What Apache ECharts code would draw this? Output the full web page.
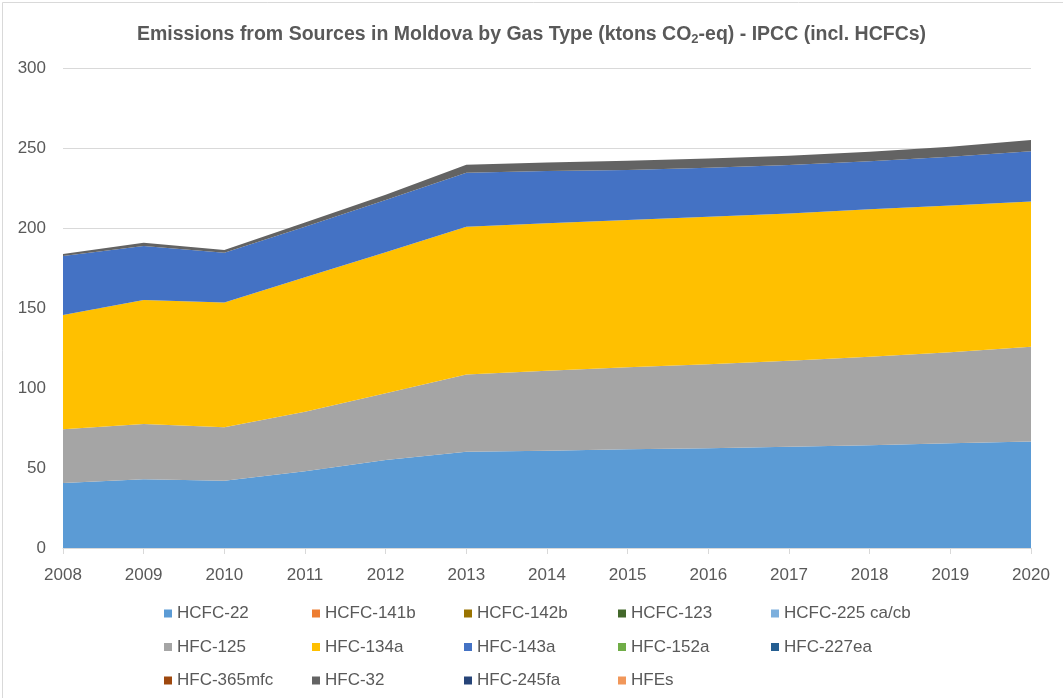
<!DOCTYPE html>
<html>
<head>
<meta charset="utf-8">
<title>Emissions from Sources in Moldova by Gas Type</title>
<script src="https://cdn.jsdelivr.net/npm/echarts@6/dist/echarts.min.js"></script>
<style>
	html, body { margin: 0; padding: 0; background: #fff; }
	#chart-container { width: 1063px; height: 698px; }
</style>
</head>
<body>
<div id="chart-container"></div>
<script>

var years = ['2008', '2009', '2010', '2011', '2012', '2013', '2014', '2015', '2016', '2017', '2018', '2019', '2020'];

var hcfc22    = [40.6, 43.0, 42.0, 48.0, 55.0, 60.2, 60.8, 61.7, 62.3, 63.3, 64.2, 65.4, 66.5];
var hcfc141b  = [0, 0, 0, 0, 0, 0, 0, 0, 0, 0, 0, 0, 0];
var hcfc142b  = [0, 0, 0, 0, 0, 0, 0, 0, 0, 0, 0, 0, 0];
var hcfc123   = [0, 0, 0, 0, 0, 0, 0, 0, 0, 0, 0, 0, 0];
var hcfc225   = [0, 0, 0, 0, 0, 0, 0, 0, 0, 0, 0, 0, 0];
var hfc125    = [33.6, 34.5, 33.4, 37.2, 41.7, 48.3, 50.0, 51.2, 52.5, 53.8, 55.4, 56.9, 59.3];
var hfc134a   = [71.4, 77.5, 78.1, 84.0, 88.2, 92.3, 92.2, 92.1, 92.2, 91.9, 92.1, 91.7, 90.7];
var hfc143a   = [36.9, 33.8, 31.1, 31.6, 32.6, 33.8, 32.6, 31.3, 30.7, 30.4, 30.0, 30.6, 31.4];
var hfc152a   = [0, 0, 0, 0, 0, 0, 0, 0, 0, 0, 0, 0, 0];
var hfc227ea  = [0, 0, 0, 0, 0, 0, 0, 0, 0, 0, 0, 0, 0];
var hfc365mfc = [0, 0, 0, 0, 0, 0, 0, 0, 0, 0, 0, 0, 0];
var hfc32     = [1.2, 2.0, 1.7, 2.7, 3.3, 5.0, 5.4, 5.7, 5.8, 5.8, 6.0, 6.2, 7.1];
var hfc245fa  = [0, 0, 0, 0, 0, 0, 0, 0, 0, 0, 0, 0, 0];
var hfes      = [0, 0, 0, 0, 0, 0, 0, 0, 0, 0, 0, 0, 0];

var gasNames = ['HCFC-22', 'HCFC-141b', 'HCFC-142b', 'HCFC-123', 'HCFC-225 ca/cb',
	'HFC-125', 'HFC-134a', 'HFC-143a', 'HFC-152a', 'HFC-227ea',
	'HFC-365mfc', 'HFC-32', 'HFC-245fa', 'HFEs'];
var gasValues = [hcfc22, hcfc141b, hcfc142b, hcfc123, hcfc225,
	hfc125, hfc134a, hfc143a, hfc152a, hfc227ea,
	hfc365mfc, hfc32, hfc245fa, hfes];
var gasColors = ['#5B9BD5', '#ED7D31', '#997300', '#43682B', '#7CAFDD',
	'#A5A5A5', '#FFC000', '#4472C4', '#70AD47', '#255E91',
	'#9E480E', '#636363', '#264478', '#F1975A'];

var yTicks = [0, 50, 100, 150, 200, 250, 300];

var textColor = '#595959';
var fontName = 'Liberation Sans';

function buildSeries() {
	var list = [];
	for (var i = 0; i < gasNames.length; i++) {
		list.push({
			name : gasNames[i],
			type : 'line',
			stack : 'total',
			data : gasValues[i],
			symbol : 'none',
			showSymbol : false,
			lineStyle : { width : 0 },
			areaStyle : { color : gasColors[i], opacity : 1 },
			itemStyle : { color : gasColors[i] },
			emphasis : { disabled : true }
		});
	}
	return list;
}

// one vertical legend per column, like the excel layout (5 per row)
var legendLefts = [164, 312, 464, 618, 771];

function buildLegends() {
	var list = [];
	for (var c = 0; c < 5; c++) {
		var names = [];
		for (var r = 0; r < 3; r++) {
			if (gasNames[r * 5 + c]) {
				names.push(gasNames[r * 5 + c]);
			}
		}
		list.push({
			data : names,
			left : legendLefts[c],
			top : 605,
			orient : 'vertical',
			icon : 'rect',
			itemWidth : 8,
			itemHeight : 8,
			itemGap : 16.5,
			padding : 0,
			selectedMode : false,
			textStyle : {
				color : textColor,
				fontSize : 17,
				fontFamily : fontName,
				lineHeight : 17
			}
		});
	}
	return list;
}

var myChart = echarts.init(document.getElementById('chart-container'));

var option = {
	backgroundColor : '#fff',
	animation : false,
	title : {
		text : '{t|Emissions from Sources in Moldova by Gas Type (ktons CO}{s|2}{t|-eq) - IPCC (incl. HCFCs)}',
		left : 'center',
		top : 18,
		textStyle : {
			rich : {
				t : { fontSize : 19.5, fontWeight : 'bold', color : textColor, fontFamily : fontName },
				s : { fontSize : 13, fontWeight : 'bold', color : textColor, fontFamily : fontName, padding : [10, 0, 0, 0] }
			}
		}
	},
	legend : buildLegends(),
	grid : {
		left : 63,
		right : 32,
		top : 68,
		bottom : 150
	},
	xAxis : {
		type : 'category',
		data : years,
		boundaryGap : false,
		axisLine : { lineStyle : { color : '#D9D9D9', width : 1 } },
		axisTick : { show : true, length : 6, lineStyle : { color : '#D9D9D9' } },
		axisLabel : { color : textColor, fontSize : 17, fontFamily : fontName, margin : 19 }
	},
	yAxis : {
		type : 'value',
		min : yTicks[0],
		max : yTicks[yTicks.length - 1],
		interval : 50,
		axisLine : { show : false },
		axisTick : { show : false },
		axisLabel : { color : textColor, fontSize : 17, fontFamily : fontName, margin : 17 },
		splitLine : { lineStyle : { color : '#D9D9D9', width : 1 } }
	},
	graphic : [{
		type : 'rect',
		shape : { x : 2.5, y : 2.5, width : 1070, height : 710 },
		style : { fill : 'none', stroke : '#D9D9D9', lineWidth : 1 },
		silent : true
	}],
	series : buildSeries()
};

myChart.setOption(option);

</script>
</body>
</html>
